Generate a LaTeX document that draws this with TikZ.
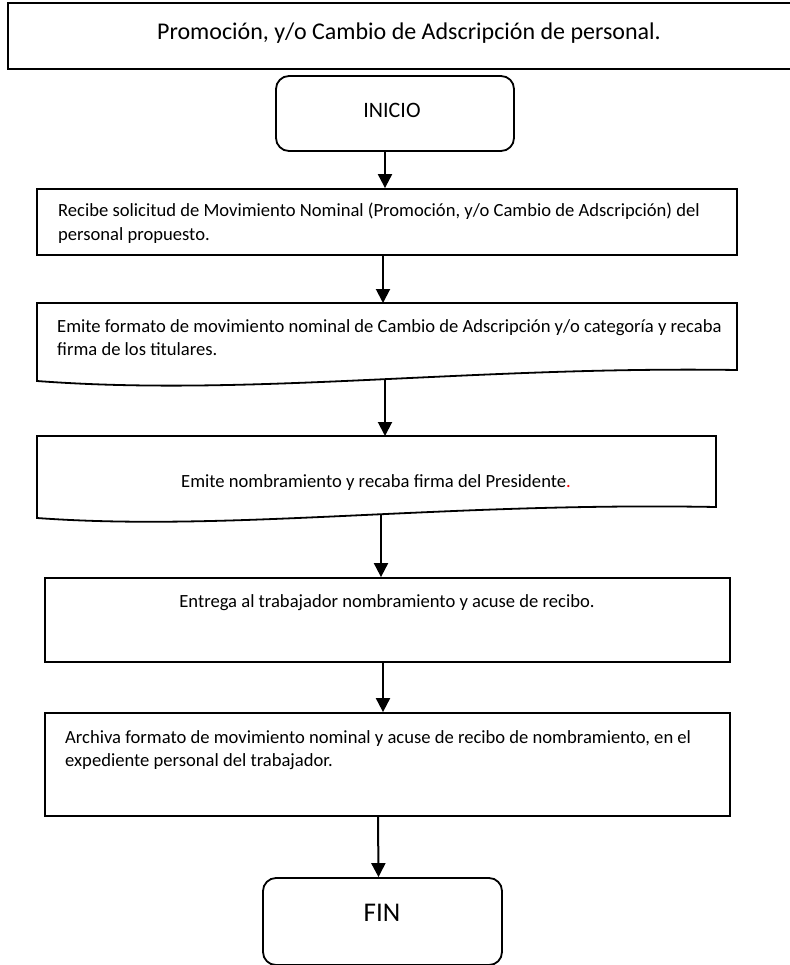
\documentclass[tikz,border=0pt]{standalone}
\usepackage{fontspec}
\setmainfont{Carlito}
\usetikzlibrary{arrows.meta}

\begin{document}
\begin{tikzpicture}[x=1pt,y=-1pt,
  frame/.style={draw=black, line width=1.8pt, line join=miter},
  box/.style={frame, rectangle, inner sep=0pt},
  term/.style={frame, rectangle, rounded corners=13pt, inner sep=0pt},
  body/.style={inner sep=0pt, font=\fontsize{18.6}{22.7}\selectfont},
  head/.style={inner sep=0pt, font=\fontsize{24}{29}\selectfont},
  flow/.style={line width=2pt, -{Triangle[length=14pt,width=14pt]}},
]
\useasboundingbox (0,0) rectangle (789,965);

% ---- heading box (runs off the right edge) ----
\node[box, minimum width=800pt, minimum height=66pt] (hdr) at (408,36) {};
\node[head, anchor=base] (hdrtxt) at (409,39.5)
  {Promoción, y/o Cambio de Adscripción de personal.};

% ---- start terminal ----
\node[term, minimum width=238pt, minimum height=75pt] (inicio) at (395,113.5) {};
\node[inner sep=0pt, font=\fontsize{22}{26}\selectfont, anchor=base] (iniciotxt)
  at (392,118) {INICIO};

% ---- step 1 ----
\node[box, minimum width=700pt, minimum height=66pt] (recibe) at (387,222) {};
\node[body, anchor=base west] (recibe1) at (58,217)
  {Recibe solicitud de Movimiento Nominal (Promoción, y/o Cambio de Adscripción) del};
\node[body, anchor=base west] (recibe2) at (58,240.5) {personal propuesto.};

% ---- step 2 (document shape) ----
\draw[frame] (37,303) -- (737,303) -- (737,370)
  .. controls (470,366) and (250,397) .. (37,381) -- cycle;
\coordinate (fmtin)  at (383,303);
\coordinate (fmtout) at (385,380);
\node[body, anchor=base west] (fmt1) at (57,332)
  {Emite formato de movimiento nominal de Cambio de Adscripción y/o categoría y recaba};
\node[body, anchor=base west] (fmt2) at (57,355) {firma de los titulares.};

% ---- step 3 (document shape) ----
\draw[frame] (37,436) -- (716,436) -- (716,507)
  .. controls (440,502) and (230,532) .. (37,518) -- cycle;
\coordinate (nomin)  at (385,436);
\coordinate (nomout) at (381,515);
\node[body, anchor=base] (nomtxt) at (376,487.5)
  {Emite nombramiento y recaba firma del Presidente\textcolor{red}{.}};

% ---- step 4 ----
\node[box, minimum width=685pt, minimum height=84pt] (entrega) at (387.5,620) {};
\node[body, anchor=base] (entregatxt) at (387,607.5)
  {Entrega al trabajador nombramiento y acuse de recibo.};

% ---- step 5 ----
\node[box, minimum width=685pt, minimum height=103pt] (archiva) at (387.5,764.5) {};
\node[body, anchor=base west] (archiva1) at (65,743.5)
  {Archiva formato de movimiento nominal y acuse de recibo de nombramiento, en el};
\node[body, anchor=base west] (archiva2) at (65,766.5) {expediente personal del trabajador.};

% ---- end terminal ----
\node[term, minimum width=239pt, minimum height=87pt] (fin) at (382.5,921.5) {};
\node[inner sep=0pt, font=\fontsize{27}{32}\selectfont, anchor=base] (fintxt)
  at (382,921.5) {FIN};

% ---- connectors ----
\draw[flow] ([xshift=-10pt]inicio.south) -- ([xshift=-2pt]recibe.north);
\draw[flow] ([xshift=-4pt]recibe.south) -- (fmtin);
\draw[flow] (fmtout) -- (nomin);
\draw[flow] (nomout) -- ([xshift=-6.5pt]entrega.north);
\draw[flow] ([xshift=-4.5pt]entrega.south) -- ([xshift=-4.5pt]archiva.north);
\draw[flow] ([xshift=-9.5pt]archiva.south) -- ([xshift=-4pt]fin.north);
\end{tikzpicture}
\end{document}
